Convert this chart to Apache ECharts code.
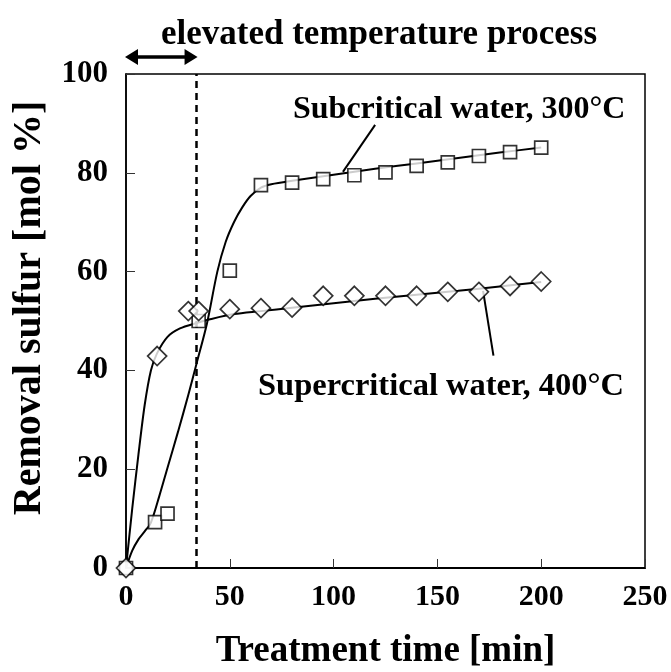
<!DOCTYPE html>
<html>
<head>
<meta charset="utf-8">
<script src="https://cdn.jsdelivr.net/npm/echarts@6/dist/echarts.min.js"></script>
<style>html,body{margin:0;padding:0;background:#fff}#c{width:671px;height:672px}</style>
</head>
<body>
<div id="c"></div>
<script>
// ---- data ----
var subTimes = [0, 14, 20, 35, 50, 65, 80, 95, 110, 125, 140, 155, 170, 185, 200];
var subValues = [0, 9.3, 11, 50, 60.2, 77.5, 78, 78.7, 79.5, 80.1, 81.4, 82.1, 83.4, 84.2, 85.1];
var supTimes = [0, 15, 30, 35, 50, 65, 80, 95, 110, 125, 140, 155, 170, 185, 200];
var supValues = [0, 42.9, 52, 52, 52.4, 52.6, 52.7, 55.1, 55.1, 55.1, 55.1, 55.9, 55.9, 57.1, 58];
// fitted curves
var subCurveT = [0, 3, 6, 9, 12, 16, 20, 25, 30, 34, 39, 44, 48, 52, 56, 60, 65, 70, 80, 100, 120, 140, 160, 180, 200];
var subCurveY = [0, 3.5, 5.8, 7.4, 9.2, 14.5, 20.3, 27.5, 35, 41.4, 49.5, 60, 66, 70, 73, 75.3, 77, 77.7, 78.4, 79.6, 80.8, 81.9, 83, 84.1, 85.1];
var supCurveT = [0, 3, 6, 9, 12, 15, 20, 26, 34, 40, 52, 65, 80, 100, 120, 140, 160, 180, 200];
var supCurveY = [0, 12, 23, 33, 40, 43.5, 46.8, 48.5, 49.6, 50.3, 51.4, 52, 52.7, 53.6, 54.5, 55.3, 56.1, 57, 57.9];
var processEnd = 34;
var subLeader = [[104.5, 80.2], [120, 89.7]];
var supLeader = [[172, 56.1], [177, 43]];
var xTicks = {min: 0, max: 250, interval: 50};
var yTicks = {min: 0, max: 100, interval: 20};
var titleText = 'elevated temperature process';
var subLabel = 'Subcritical water, 300°C';
var supLabel = 'Supercritical water, 400°C';
var xName = 'Treatment time [min]';
var yName = 'Removal sulfur [mol %]';

function zip(a, b) { return a.map(function (v, i) { return [v, b[i]]; }); }

var FONT = '"Liberation Serif", "Times New Roman", serif';
var chart = echarts.init(document.getElementById('c'), null, {renderer: 'canvas'});
var option = {
  animation: false,
  backgroundColor: '#fff',
  grid: {left: 126, right: 26, top: 74, bottom: 104, show: true, borderColor: '#000', borderWidth: 1.5,
         backgroundColor: 'transparent', containLabel: false, outerBoundsMode: 'none'},
  xAxis: {
    type: 'value', min: xTicks.min, max: xTicks.max, interval: xTicks.interval,
    name: xName, nameLocation: 'middle', nameGap: 65,
    nameTextStyle: {fontFamily: FONT, fontWeight: 'bold', fontSize: 37, color: '#000'},
    axisLine: {lineStyle: {color: '#000', width: 2}},
    axisTick: {inside: true, length: 9, lineStyle: {color: '#333', width: 1}},
    axisLabel: {fontFamily: FONT, fontWeight: 'bold', fontSize: 30, color: '#000', margin: 14},
    splitLine: {show: false}
  },
  yAxis: {
    type: 'value', min: yTicks.min, max: yTicks.max, interval: yTicks.interval,
    axisLine: {lineStyle: {color: '#000', width: 1.5}},
    axisTick: {inside: true, length: 9, lineStyle: {color: '#333', width: 1}},
    axisLabel: {fontFamily: FONT, fontWeight: 'bold', fontSize: 31, color: '#000', margin: 18},
    splitLine: {show: false}
  },
  series: [
    {type: 'line', data: zip(subCurveT, subCurveY), smooth: 0.3, showSymbol: false, lineStyle: {color: '#000', width: 2}, z: 2,
     markLine: {silent: true, symbol: 'none', label: {show: false},
       lineStyle: {color: '#000', width: 2.5, type: [7, 5]},
       data: [[{coord: [processEnd, yTicks.min]}, {coord: [processEnd, yTicks.max]}]]}},
    {type: 'line', data: zip(supCurveT, supCurveY), smooth: 0.3, showSymbol: false, lineStyle: {color: '#000', width: 2}, z: 2},
    {type: 'line', data: subLeader, showSymbol: false, lineStyle: {color: '#000', width: 2}, z: 2},
    {type: 'line', data: supLeader, showSymbol: false, lineStyle: {color: '#000', width: 2}, z: 2},
    {type: 'scatter', data: zip(subTimes, subValues), symbol: 'rect', symbolSize: 13, clip: false,
     itemStyle: {color: '#fff', borderColor: '#000', borderWidth: 1.7}, z: 5},
    {type: 'scatter', data: zip(supTimes, supValues), symbol: 'diamond', symbolSize: 19, clip: false,
     itemStyle: {color: '#fff', borderColor: '#000', borderWidth: 1.7}, z: 6}
  ]
};
chart.setOption(option);

// annotations placed relative to axes
var pA = chart.convertToPixel({xAxisIndex: 0, yAxisIndex: 0}, [xTicks.min, yTicks.max]);
var pB = chart.convertToPixel({xAxisIndex: 0, yAxisIndex: 0}, [processEnd, yTicks.max]);
var ay = pA[1] - 17, ax0 = pA[0] - 1, ax1 = pB[0] + 1;
chart.setOption({
  graphic: [
    {type: 'line', shape: {x1: ax0 + 10, y1: ay, x2: ax1 - 10, y2: ay}, style: {stroke: '#000', lineWidth: 3.5}},
    {type: 'polygon', shape: {points: [[ax0, ay], [ax0 + 13, ay - 8], [ax0 + 13, ay + 8]]}, style: {fill: '#000'}},
    {type: 'polygon', shape: {points: [[ax1, ay], [ax1 - 13, ay - 8], [ax1 - 13, ay + 8]]}, style: {fill: '#000'}},
    {type: 'text', x: 161, y: 35, style: {text: titleText, font: 'bold 35px ' + FONT, fill: '#000', textVerticalAlign: 'middle'}},
    {type: 'text', x: 293, y: 110, style: {text: subLabel, font: 'bold 32px ' + FONT, fill: '#000', textVerticalAlign: 'middle'}},
    {type: 'text', x: 258, y: 387, style: {text: supLabel, font: 'bold 32.5px ' + FONT, fill: '#000', textVerticalAlign: 'middle'}},
    {type: 'text', x: 30, y: 308, rotation: Math.PI / 2, style: {text: yName, font: 'bold 40px ' + FONT, fill: '#000', textAlign: 'center', textVerticalAlign: 'middle'}}
  ]
});
</script>
</body>
</html>
